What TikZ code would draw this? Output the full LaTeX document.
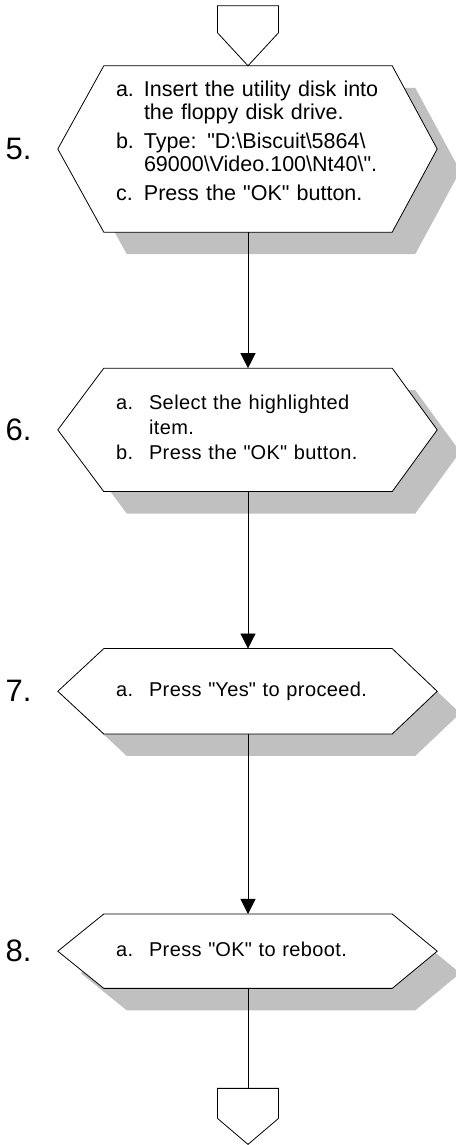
\documentclass[tikz,border=0pt]{standalone}
\usepackage{fontspec}
\setmainfont{Liberation Sans}
\usetikzlibrary{arrows.meta, positioning, shadows, backgrounds}

\definecolor{shadowgray}{RGB}{192,192,192}

\tikzset{
  stepbox/.style={minimum width=288pt, inner xsep=12pt, inner ysep=0pt, text width=264pt, align=left},
  steptext/.style={font=\fontsize{20}{25}\addfontfeatures{LetterSpace=2}\selectfont},
  steplbl/.style={font=\fontsize{31}{31}\selectfont, inner sep=0pt},
  flow/.style={-{Triangle[length=15pt,width=15pt]}, line width=0.8pt},
  hex/.style={fill=white, draw=black, line width=0.8pt,
    drop shadow={shadow xshift=23pt, shadow yshift=-22pt, fill=shadowgray, opacity=1}}
}
\newcommand\qq{\textquotedbl}

\begin{document}
\begin{tikzpicture}[x=1pt, y=1pt]
\useasboundingbox (0,0) rectangle (455,1145);

% steps
\node[stepbox, minimum height=166pt, font=\fontsize{21.5}{23}\selectfont] (s5) at (248,996) {%
\begin{tabular}{@{}p{28pt}@{}l@{}}
a. & Insert the utility disk into\\
   & the floppy disk drive.\\[6pt]
b. & Type: \qq D:\textbackslash Biscuit\textbackslash 5864\textbackslash\\
   & 69000\textbackslash Video.100\textbackslash Nt40\textbackslash\qq.\\[6pt]
c. & Press the \qq OK\qq{} button.\\[11pt]
\end{tabular}};
\node[stepbox, steptext, minimum height=123pt, below=136pt of s5] (s6) {%
\begin{tabular}{@{}p{33pt}@{}l@{}}
a. & Select the highlighted\\
   & item.\\
b. & Press the \qq OK\qq{} button.
\end{tabular}};
\node[stepbox, steptext, minimum height=85pt, below=157pt of s6] (s7) {%
\begin{tabular}{@{}p{33pt}@{}l@{}}
a. & Press \qq Yes\qq{} to proceed.
\end{tabular}};
\node[stepbox, steptext, minimum height=74pt, below=180pt of s7] (s8) {%
\begin{tabular}{@{}p{33pt}@{}l@{}}
a. & Press \qq OK\qq{} to reboot.
\end{tabular}};

% step numbers
\node[steplbl, left=72pt of s5] (n5) {5.};
\node[steplbl, left=72pt of s6] (n6) {6.};
\node[steplbl, left=72pt of s7] (n7) {7.};
\node[steplbl, left=72pt of s8] (n8) {8.};

% hexagon outlines with shadow
\begin{scope}[on background layer]
\foreach \s in {s5,s6,s7,s8}
  \path[hex] (\s.north west) -- (\s.north east) -- ([xshift=45pt]\s.east)
    -- (\s.south east) -- (\s.south west) -- ([xshift=-46pt]\s.west) -- cycle;
\end{scope}

% off-page connectors
\draw[line width=0.8pt] (s5.north) -- ++(-30.5,33) -- ++(0,27) -- ++(61,0) -- ++(0,-27) -- cycle;
\coordinate[below=100pt of s8] (out8);
\draw[line width=0.8pt] (out8) -- ++(30.5,0) -- ++(0,-30) -- ++(-30.5,-26) -- ++(-30.5,26) -- ++(0,30) -- cycle;

% flow lines
\draw[flow] (s5) -- (s6);
\draw[flow] (s6) -- (s7);
\draw[flow] (s7) -- (s8);
\draw[line width=0.8pt] (s8) -- (out8);
\end{tikzpicture}
\end{document}
